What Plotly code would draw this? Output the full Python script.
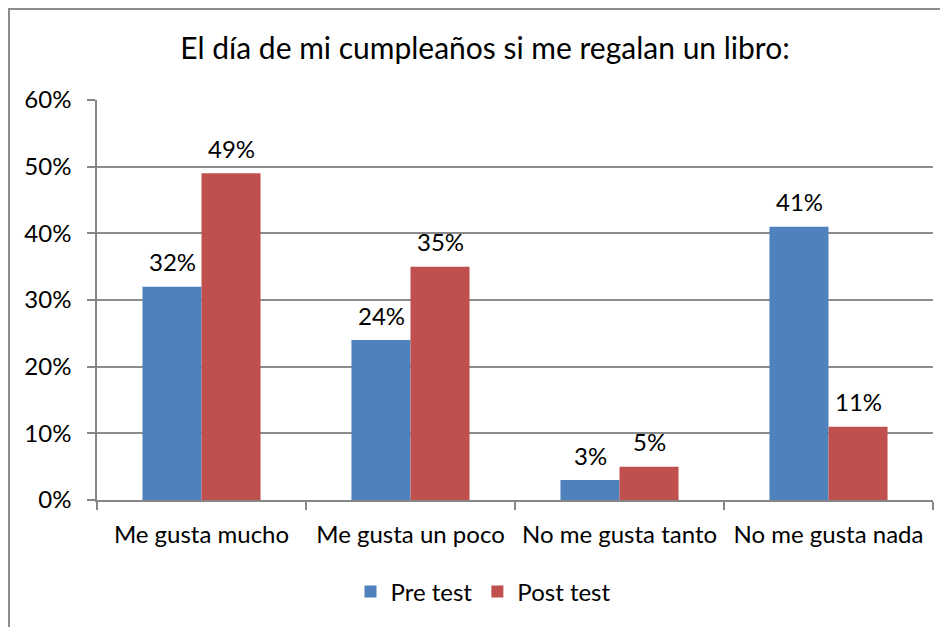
import plotly.graph_objects as go

categories = ["Me gusta mucho", "Me gusta un poco", "No me gusta tanto", "No me gusta nada"]
pre_test = [0.32, 0.24, 0.03, 0.41]
post_test = [0.49, 0.35, 0.05, 0.11]
series_names = ["Pre test", "Post test"]
colors = ["#4F81BD", "#C0504D"]
title_text = "El día de mi cumpleaños si me regalan un libro:"

FONT = "Lato"
OFF = 8  # page body margin
W, H = 948 - OFF, 627 - OFF
# target plot area in page pixels: x 97..933, y 100..500
L = 97 - OFF
T = 100 - OFF
R = W - (933 - OFF)
B = H - (500 - OFF)

fig = go.Figure()
for name, vals, col in zip(series_names, [pre_test, post_test], colors):
    fig.add_trace(go.Bar(x=categories, y=vals, name=name, marker=dict(color=col, line=dict(width=0)),
                         hoverinfo="skip"))

bar_w = 59
for vals, shift in [(pre_test, -bar_w / 2), (post_test, bar_w / 2)]:
    for c, v in zip(categories, vals):
        fig.add_annotation(x=c, y=v, text=f"{round(v*100)}%", showarrow=False,
                           xshift=shift, yshift=25, yanchor="middle",
                           font=dict(family=FONT, size=24, color="#000000"))

pw = W - L - R
ph = H - T - B
fig.add_shape(type="rect", xref="paper", yref="paper",
              x0=(8 - OFF + 1 - L) / pw, x1=(W + 20 - L) / pw,
              y0=-(H + 20 - T - ph) / ph, y1=1 + (T - (8 - OFF + 1)) / ph,
              line=dict(color="#8C8C8C", width=2), fillcolor="rgba(0,0,0,0)", layer="below")

fig.update_layout(
    width=W, height=H,
    margin=dict(l=L, r=R, t=T, b=B, autoexpand=False),
    paper_bgcolor="white", plot_bgcolor="white",
    barmode="group", bargap=0.435, bargroupgap=0,
    title=dict(text=title_text, x=(485 - OFF) / W, xref="container", xanchor="center",
               y=1 - (48 - OFF) / H, yref="container", yanchor="middle",
               font=dict(family=FONT, size=30, color="#000000")),
    legend=dict(orientation="h", xanchor="center", x=(483 - 97) / pw,
                yref="container", y=1 - (592 - OFF) / H, yanchor="middle",
                font=dict(family=FONT, size=24, color="#000000"),
                itemwidth=30, tracegroupgap=0),
    font=dict(family=FONT, color="#000000"),
    showlegend=True,
)
fig.update_xaxes(type="category", range=[-0.5, 3.5], showline=True, linecolor="#868686", linewidth=1.5,
                 ticks="outside", tickson="boundaries", ticklen=8, tickcolor="#868686", tickwidth=1.5,
                 showgrid=False, ticklabelstandoff=12,
                 tickfont=dict(family=FONT, size=24, color="#000000"))
fig.update_yaxes(range=[0, 0.6], dtick=0.1, tickformat=".0%", showline=True, linecolor="#868686", linewidth=1.5,
                 ticks="outside", ticklen=8, tickcolor="#868686", tickwidth=1.5,
                 showgrid=True, gridcolor="#8C8C8C", gridwidth=1.5, zeroline=False,
                 ticklabelstandoff=11,
                 tickfont=dict(family=FONT, size=24, color="#000000"))

fig.write_html("out.html")
